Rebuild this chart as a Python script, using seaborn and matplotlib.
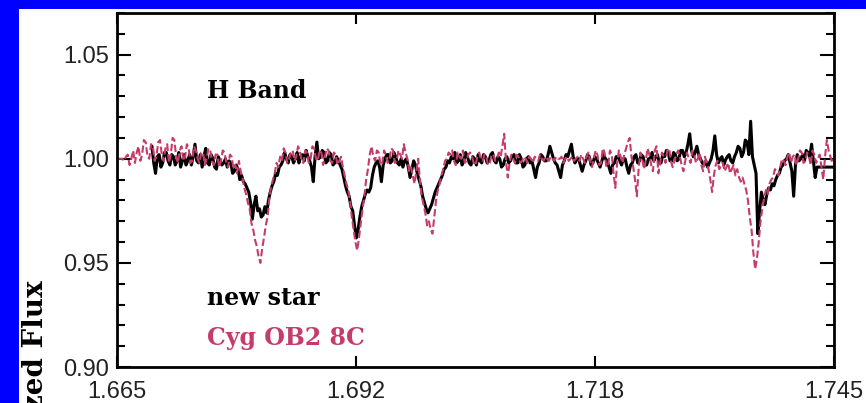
import numpy as np
import pandas as pd
import matplotlib
matplotlib.use("Agg")
import matplotlib.pyplot as plt
from matplotlib.patches import Rectangle
from matplotlib.ticker import MultipleLocator, FixedLocator
import seaborn as sns

# ---------------- data ----------------
black_start = 1.6689   # microns, first sample of "new star"
pink_start = 1.6650    # first sample of "Cyg OB2 8C"
sample_step = 0.0002   # microns per sample

new_star_flux = [
    1.006, 0.998, 0.993, 1.001, 1.002, 0.996, 0.998, 1.003, 1.003, 0.999, 0.997, 1.002, 1.001, 0.997, 0.999, 1.003, 0.996, 0.999, 1.002, 0.997,
    0.999, 1.002, 0.997, 1.001, 1.007, 0.999, 0.998, 1.002, 0.996, 1.001, 1.005, 0.998, 0.997, 1.002, 1.000, 0.996, 0.995, 1.001, 0.999, 0.997,
    0.998, 1.000, 0.996, 0.999, 0.998, 0.993, 0.994, 0.997, 0.995, 0.990, 0.992, 0.989, 0.988, 0.986,
    0.984, 0.979, 0.971, 0.978, 0.982, 0.975, 0.976, 0.972, 0.973, 0.977, 0.974, 0.980, 0.984, 0.987, 0.989, 0.993, 0.992, 0.996, 0.997, 0.999, 1.003, 1.000, 0.998, 1.002, 1.001, 0.998,
    1.000, 1.003, 0.998, 1.001, 1.002, 0.999, 1.004, 1.001, 0.999, 0.996, 0.989, 1.001, 1.008, 1.000, 1.001, 1.004, 1.003, 0.998, 0.999, 1.003, 1.002, 0.997, 0.998, 1.001,
    0.999, 0.997, 0.995, 0.991, 0.987, 0.984, 0.982, 0.977, 0.975, 0.968, 0.962, 0.966, 0.972, 0.977, 0.980, 0.983, 0.985, 0.984, 0.986, 0.992, 0.996, 0.998, 0.999, 0.996, 0.989, 0.997, 1.000, 1.002,
    1.002, 0.998, 0.999, 1.003, 1.001, 0.998, 0.997, 1.000, 0.996, 0.999, 1.000, 0.996, 0.991, 0.995,
    0.999, 0.997, 0.993, 0.990, 0.987, 0.982, 0.979, 0.976, 0.974, 0.976, 0.978, 0.981, 0.984, 0.986, 0.988, 0.990, 0.992, 0.995, 0.996, 0.999, 0.998, 1.001,
    1.000, 1.003, 0.998, 0.999, 1.002, 0.997, 0.999, 1.003, 1.001, 0.998, 0.997, 1.001, 1.000, 0.997, 1.002, 0.999, 0.998, 1.002, 1.001, 0.998,
    0.999, 1.002, 1.003, 0.999, 0.998, 1.001, 1.000, 0.996, 0.997, 1.000, 1.001, 0.998,
    0.999, 1.001, 1.002, 0.998, 0.998, 1.002, 1.000, 0.996, 0.997, 1.000, 1.001, 0.998, 0.999, 0.995, 0.991, 0.996, 0.998, 1.002, 1.001, 0.999,
    0.999, 1.002, 1.006, 1.003, 1.000, 0.998, 0.997, 0.994, 0.991, 0.997, 0.999, 1.002, 1.001, 1.004, 1.007, 1.001, 0.998, 1.000, 1.000, 0.997,
    0.994, 0.997, 0.999, 1.002, 1.001, 0.997, 0.998, 1.001, 1.000, 0.998, 0.996, 0.999, 1.002, 1.000, 0.999, 0.996, 0.993, 0.997, 0.998, 1.001,
    1.001, 0.999, 0.997, 1.000, 1.000, 0.996, 0.993, 0.997, 0.998, 1.001, 1.002, 0.998, 0.999, 1.002, 1.001, 0.997, 0.997, 1.000, 1.000, 1.003,
    0.999, 1.001, 1.002, 0.998, 0.998, 1.002, 1.001, 1.004, 1.003, 0.999, 0.999, 1.003, 1.002, 0.999, 1.000, 1.004, 1.004, 1.001, 1.003, 1.007,
    1.012, 1.004, 1.001, 1.003, 1.006, 1.002, 1.000, 0.998, 0.997, 0.999,
    0.996, 0.998, 1.000, 1.004, 1.011, 1.002, 0.998, 1.000, 1.001, 0.997, 0.9995, 1.001, 1.002, 0.999, 0.998, 1.001, 1.003, 1.006, 1.005, 1.001,
    1.003, 1.009, 1.008, 1.002, 1.018, 1.001, 0.997, 0.993, 0.964, 0.975, 0.984, 0.980, 0.978, 0.983, 0.986, 0.985, 0.988, 0.987, 0.990, 0.992,
    0.993, 0.996, 0.997, 0.999, 1.000, 1.002, 0.998, 0.994, 0.982, 0.997, 1.002, 0.999, 1.000, 1.002, 0.999, 1.004, 1.003, 1.001, 1.007, 0.999,
    0.991, 0.996, 0.996, 0.996, 0.996, 0.996, 0.996, 0.996, 0.996, 0.996, 0.996,
]

cyg_flux = [
    1.000, 1.000, 1.000, 1.000, 0.999, 1.001, 1.002, 0.997, 1.000, 1.004, 0.998, 1.003, 1.006, 0.999, 1.002, 1.009, 1.008, 1.001, 1.000, 1.007,
    1.006, 0.999, 1.001, 1.008, 1.009, 1.002, 0.999, 1.005, 1.007, 0.998, 1.002, 1.010, 1.009, 1.001, 0.998, 1.004, 1.006, 0.999, 1.001, 1.007,
    1.005, 0.998, 0.999, 1.006, 1.004, 1.000, 0.998, 1.003, 1.003, 0.997, 1.000, 1.005, 1.004, 0.999, 0.997, 1.002, 1.002, 0.996, 0.999, 1.004,
    1.003, 0.998, 0.996, 1.002, 1.001, 0.995, 0.997, 0.993, 0.999, 0.994, 0.991, 0.986, 0.983, 0.979, 0.976, 0.969, 0.966, 0.961, 0.958, 0.953,
    0.950, 0.957, 0.962, 0.968, 0.972, 0.981, 0.987, 0.990, 0.993, 0.998, 0.996, 1.001, 0.999, 1.005, 1.003, 0.998, 1.000, 1.003, 1.004, 0.999,
    1.001, 1.006, 1.004, 0.999, 0.998, 1.004, 1.003, 0.998, 1.000, 1.006, 1.005, 1.000, 0.999, 1.004, 1.003, 0.997, 1.001, 1.005, 1.004, 0.999,
    0.998, 1.003, 1.002, 0.997, 0.999, 1.001, 0.996, 0.992,
    0.988, 0.985, 0.980, 0.972, 0.966, 0.960, 0.956, 0.962, 0.969, 0.976, 0.982, 0.990, 0.995, 1.002, 1.006, 1.001, 0.999, 1.004, 1.003, 0.997,
    0.998, 1.004, 1.002, 0.998, 1.000, 1.005, 1.004, 0.998, 0.999, 1.004, 1.002, 1.000, 1.007, 1.003, 1.000, 0.994, 0.996, 0.992, 0.988, 0.994,
    1.000, 0.990, 0.982, 0.978, 0.974, 0.968, 0.970, 0.966, 0.964, 0.972, 0.980, 0.985, 0.988, 0.992, 0.995, 0.999, 1.000, 1.003,
    1.002, 1.004, 0.999, 0.997, 1.003, 1.001, 1.000, 1.004, 0.998, 0.999, 1.002, 1.003, 1.001, 0.998, 0.997, 1.001, 1.003, 1.000, 0.999, 1.002,
    1.001, 0.997, 0.998, 1.002, 1.002, 0.999, 1.000, 1.003,
    1.001, 1.006, 1.012, 0.999, 0.991, 0.998, 1.002, 1.000, 0.998, 1.002, 1.001, 0.998, 0.999, 1.001, 1.000, 0.998, 1.001, 1.000, 0.998, 1.001,
    1.000, 0.999, 1.002, 1.000, 0.999, 1.001, 1.000, 0.999, 1.001, 1.000, 0.999, 1.001, 1.000, 1.000, 1.001, 0.998,
    1.000, 1.001, 0.999, 1.000, 1.001, 0.999, 1.000, 1.001, 0.999, 1.002, 1.000, 0.998, 1.001, 1.003, 0.999, 0.996, 1.000, 1.004, 1.002, 0.997,
    0.998, 1.005, 1.003, 0.996, 0.997, 1.004, 1.002, 0.993, 0.986, 0.998, 1.004, 1.001,
    0.998, 1.002, 1.005, 1.008, 1.010, 1.001, 0.996, 0.990, 0.982, 0.995, 1.003, 1.000, 0.995, 0.999, 1.005, 1.002, 0.997, 0.994, 1.004, 1.006,
    0.993, 0.998, 1.003, 1.001, 0.998, 1.004, 1.005, 0.999, 0.996, 0.999, 1.002, 1.004,
    1.001, 0.997, 0.994, 0.999, 1.003, 1.000, 0.998, 1.004, 1.002, 0.998, 1.000, 1.003, 0.997, 0.994, 1.001, 0.998, 0.995, 0.990, 0.984, 0.992,
    0.997, 0.999, 0.995, 0.997, 0.998, 0.994, 0.996, 0.998, 0.993, 0.995, 0.997, 0.992, 0.995, 0.991,
    0.989, 0.991, 0.988, 0.985, 0.980, 0.972, 0.966, 0.955, 0.947, 0.952, 0.960, 0.970, 0.976, 0.981, 0.985, 0.983, 0.988, 0.990, 0.991, 0.995,
    0.994, 0.992, 0.996, 1.000, 0.999, 0.997, 1.001, 1.003,
    0.998, 1.001, 1.002, 0.997, 1.000, 1.004, 1.003, 0.998, 0.999, 1.003, 1.001, 0.997, 1.004, 1.002, 0.998, 1.000, 1.002, 0.996, 0.990, 1.001,
    1.009, 1.004, 1.001, 0.998, 1.000,
]

x_ticks = [1.665, 1.665 + 0.08 / 3, 1.665 + 0.16 / 3, 1.745]
x_tick_labels = ["1.665", "1.692", "1.718", "1.745"]
y_ticks = [0.90, 0.95, 1.00, 1.05]
y_tick_labels = ["0.90", "0.95", "1.00", "1.05"]

df_new = pd.DataFrame({
    "wave": black_start + sample_step * np.arange(len(new_star_flux)),
    "flux": new_star_flux,
})
df_cyg = pd.DataFrame({
    "wave": pink_start + sample_step * np.arange(len(cyg_flux)),
    "flux": cyg_flux,
})

# ---------------- styling ----------------
sns.set_style("white")
plt.rcParams["font.family"] = ["Liberation Sans", "DejaVu Sans"]

W, H = 866, 403
BLUE = "#0000FF"
PINK = "#C53C6B"
SERIF = ["DejaVu Serif"]

fig = plt.figure(figsize=(W / 100, H / 100), dpi=100)
fig.patch.set_facecolor(BLUE)
fig.patches.append(Rectangle((19 / W, 0), 1 - 19 / W, 1 - 9 / H,
                             transform=fig.transFigure, facecolor="white",
                             edgecolor="none", zorder=-10))

ax = fig.add_axes([117 / W, (H - 367) / H, (834 - 117) / W, (367 - 13) / H])
ax.set_facecolor("white")
ax.set_zorder(1)

sns.lineplot(data=df_new, x="wave", y="flux", ax=ax, color="black",
             linewidth=2.2, estimator=None, sort=False)
sns.lineplot(data=df_cyg, x="wave", y="flux", ax=ax, color=PINK,
             linewidth=1.5, linestyle=(0, (3.5, 1.5)), estimator=None, sort=False)

ax.set_xlim(1.665, 1.745)
ax.set_ylim(0.90, 1.07)
ax.set_xlabel("")
ax.set_ylabel("")

ax.xaxis.set_major_locator(FixedLocator(x_ticks))
ax.set_xticklabels(x_tick_labels)
ax.yaxis.set_major_locator(FixedLocator(y_ticks))
ax.set_yticklabels(y_tick_labels)
ax.yaxis.set_minor_locator(MultipleLocator(0.01))

for s in ax.spines.values():
    s.set_visible(True)
    s.set_linewidth(2.0)
    s.set_color("black")

ax.tick_params(axis="both", which="both", direction="in", colors="black")
ax.tick_params(axis="x", which="major", top=True, bottom=True, length=8, width=1.5,
               labelsize=17, pad=10)
ax.tick_params(axis="y", which="major", left=True, right=True, length=10, width=1.5,
               labelsize=17, pad=6)
ax.tick_params(axis="y", which="minor", left=True, right=True, length=5.5, width=1.5)

for lab in ax.get_xticklabels() + ax.get_yticklabels():
    lab.set_color("#222222")

# annotations
ax.text(1.675, 1.029, "H Band", family=SERIF, weight="bold", fontsize=17,
        color="black", va="baseline", ha="left")
ax.text(1.675, 0.9298, "new star", family=SERIF, weight="bold", fontsize=17,
        color="black", va="baseline", ha="left")
ax.text(1.675, 0.9106, "Cyg OB2 8C", family=SERIF, weight="bold", fontsize=17,
        color=PINK, va="baseline", ha="left")

fig.text(36 / W, 1 - 280 / H, "Normalized Flux", family=SERIF, weight="bold",
         fontsize=20, color="black", rotation=90, rotation_mode="anchor",
         ha="right", va="center")

fig.savefig("out.png", dpi=100, facecolor=BLUE)
